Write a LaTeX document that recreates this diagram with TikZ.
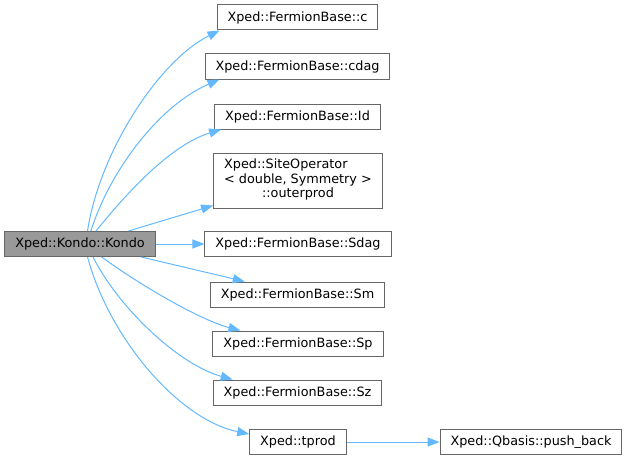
\documentclass[tikz,border=0pt]{standalone}
\usepackage{fontspec}
\setmainfont{DejaVu Sans}
\usetikzlibrary{arrows.meta}
\definecolor{figline}{RGB}{102,102,102}
\definecolor{figroot}{RGB}{153,153,153}
\definecolor{figedge}{RGB}{99,184,255}
\tikzset{
  fn/.style    ={draw=figline, fill=white, line width=1pt, minimum height=25pt,
                 inner xsep=10.5pt, inner ysep=2pt, font=\fontsize{12.8}{14.5}\selectfont},
  fnroot/.style={fn, fill=figroot},
  call/.style  ={draw=figedge, line width=1pt, -{Triangle[length=12pt,width=9pt]}},
}

\begin{document}
\begin{tikzpicture}[x=1pt,y=-1pt]
  \useasboundingbox (0,0) rectangle (629,460);
  % caller
  \node[fnroot] (kondo) at (80,244) {Xped::Kondo::Kondo};
  % callees
  \node[fn] (c)     at (297.5,17.5)  {Xped::FermionBase::c};
  \node[fn] (cdag)  at (297.5,66.5)  {Xped::FermionBase::cdag};
  \node[fn] (id)    at (297.5,116.5) {Xped::FermionBase::Id};
  \node[fn,minimum height=55pt] (outer) at (298,180.5)
    {\begin{tabular}{@{}l@{}}Xped::SiteOperator\\< double, Symmetry >\\\multicolumn{1}{@{}c@{}}{::outerprod}\end{tabular}};
  \node[fn] (sdag)  at (298,244)     {Xped::FermionBase::Sdag};
  \node[fn] (sm)    at (297.5,294.5) {Xped::FermionBase::Sm};
  \node[fn] (sp)    at (298,343.5)   {Xped::FermionBase::Sp};
  \node[fn] (sz)    at (297.5,392.5) {Xped::FermionBase::Sz};
  \node[fn] (tprod) at (298,442)     {Xped::tprod};
  \node[fn] (push)  at (531,442)     {Xped::Qbasis::push\_back};
  % calls
  \draw[call] (kondo.60) .. controls (100,150) and (160,60) .. ([xshift=3pt]c.south west);
  \draw[call] (kondo.50) .. controls (110,170) and (160,105) .. ([xshift=15pt]cdag.south west);
  \draw[call] (kondo.39) .. controls (125,195) and (170,145) .. ([xshift=7pt]id.south west);
  \draw[call] (kondo.15) -- ([yshift=3pt]outer.south west);
  \draw[call] (kondo.east) -- (sdag.west);
  \draw[call] (kondo.-12) -- ([xshift=35pt]sm.north west);
  \draw[call] (kondo.-31) .. controls (140,285) and (200,320) .. ([xshift=28pt]sp.north west);
  \draw[call] (kondo.-45) .. controls (120,310) and (180,365) .. ([xshift=20pt]sz.north west);
  \draw[call] (kondo.-60) .. controls (110,340) and (180,420) .. ([yshift=8pt]tprod.west);
  \draw[call] (tprod.east) -- (push.west);
\end{tikzpicture}
\end{document}
